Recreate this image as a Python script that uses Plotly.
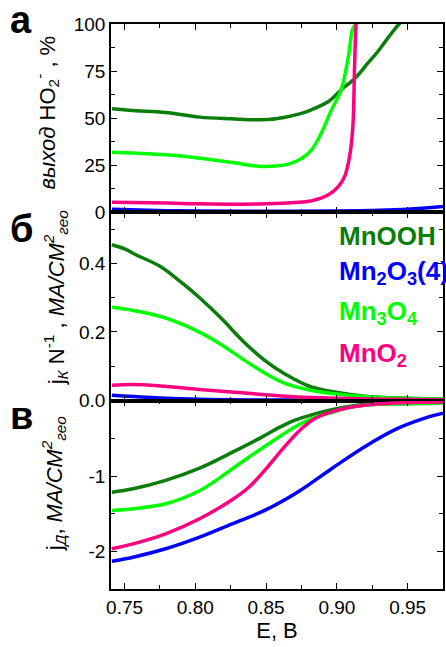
import plotly.graph_objects as go
from plotly.subplots import make_subplots

# ---------------- data ----------------
# Panel а: HO2- yield, %
E_a_MnOOH = [0.741, 0.756, 0.779, 0.803, 0.826, 0.845, 0.857, 0.873, 0.882, 0.894, 0.903, 0.913, 0.922, 0.929, 0.936, 0.944, 0.950]
Y_a_MnOOH = [54.9, 54.0, 53.0, 50.5, 49.6, 49.1, 49.6, 52.1, 54.4, 58.8, 65.0, 71.3, 79.3, 85.4, 92.5, 100, 104]
E_a_Mn2O3 = [0.741, 0.760, 0.780, 0.800, 0.850, 0.900, 0.930, 0.950, 0.975]
Y_a_Mn2O3 = [1.6, 1.2, 0.8, 0.6, 0.5, 0.6, 1.0, 1.6, 3.0]
E_a_Mn3O4 = [0.741, 0.756, 0.779, 0.803, 0.826, 0.845, 0.857, 0.866, 0.875, 0.882, 0.889, 0.896, 0.903, 0.908, 0.911, 0.913, 0.915]
Y_a_Mn3O4 = [31.9, 31.4, 30.5, 28.7, 26.4, 24.4, 24.5, 25.5, 28.5, 33.0, 42.0, 54.0, 65.0, 82.0, 97.0, 100, 108]
E_a_MnO2 = [0.741, 0.780, 0.803, 0.826, 0.849, 0.873, 0.882, 0.894, 0.901, 0.9055, 0.909, 0.9113, 0.9125, 0.9136, 0.915]
Y_a_MnO2 = [5.3, 4.8, 4.4, 4.2, 4.4, 5.3, 6.0, 9.2, 13.6, 19.0, 29.6, 45.5, 77.0, 100, 110]

# Panel б: jk N^-1, mA/cm2
E_b_MnOOH = [0.741, 0.750, 0.758, 0.775, 0.791, 0.803, 0.819, 0.833, 0.849, 0.863, 0.882, 0.908, 0.930, 0.950, 0.975]
Y_b_MnOOH = [0.455, 0.443, 0.426, 0.392, 0.342, 0.300, 0.237, 0.176, 0.117, 0.078, 0.039, 0.018, 0.009, 0.006, 0.004]
E_b_Mn2O3 = [0.741, 0.775, 0.803, 0.850, 0.900, 0.975]
Y_b_Mn2O3 = [0.015, 0.007, 0.003, 0.001, 0.0005, 0.0005]
E_b_Mn3O4 = [0.741, 0.756, 0.775, 0.791, 0.805, 0.819, 0.833, 0.849, 0.863, 0.882, 0.908, 0.930, 0.950, 0.975]
Y_b_Mn3O4 = [0.272, 0.263, 0.246, 0.222, 0.195, 0.161, 0.122, 0.080, 0.050, 0.029, 0.015, 0.008, 0.005, 0.004]
E_b_MnO2 = [0.741, 0.756, 0.775, 0.803, 0.833, 0.863, 0.908, 0.940, 0.975]
Y_b_MnO2 = [0.044, 0.046, 0.042, 0.032, 0.022, 0.012, 0.005, 0.003, 0.002]

# Panel в: jD, mA/cm2
E_c_MnOOH = [0.741, 0.756, 0.779, 0.803, 0.826, 0.847, 0.859, 0.870, 0.882, 0.894, 0.906, 0.917, 0.945, 0.975]
Y_c_MnOOH = [-1.21, -1.165, -1.053, -0.890, -0.680, -0.476, -0.350, -0.253, -0.180, -0.120, -0.075, -0.046, -0.03, -0.025]
E_c_Mn2O3 = [0.741, 0.756, 0.779, 0.803, 0.826, 0.849, 0.873, 0.896, 0.920, 0.943, 0.966, 0.975]
Y_c_Mn2O3 = [-2.129, -2.076, -1.964, -1.809, -1.631, -1.453, -1.200, -0.900, -0.600, -0.360, -0.200, -0.156]
E_c_Mn3O4 = [0.741, 0.756, 0.779, 0.803, 0.814, 0.826, 0.838, 0.849, 0.861, 0.873, 0.884, 0.896, 0.908, 0.920, 0.945, 0.975]
Y_c_Mn3O4 = [-1.453, -1.43, -1.364, -1.190, -1.06, -0.90, -0.74, -0.60, -0.45, -0.31, -0.215, -0.15, -0.085, -0.05, -0.03, -0.025]
E_c_MnO2 = [0.741, 0.756, 0.779, 0.803, 0.826, 0.838, 0.849, 0.861, 0.873, 0.884, 0.896, 0.908, 0.931, 0.955, 0.975]
Y_c_MnO2 = [-1.964, -1.898, -1.764, -1.564, -1.31, -1.14, -0.92, -0.65, -0.40, -0.235, -0.14, -0.084, -0.031, -0.012, -0.008]

x_tickvals = [0.75, 0.80, 0.85, 0.90, 0.95]
x_ticktext = ["0.75", "0.80", "0.85", "0.90", "0.95"]
a_tickvals = [0, 25, 50, 75, 100]
a_ticktext = ["0", "25", "50", "75", "100"]
b_tickvals = [0.0, 0.2, 0.4]
b_ticktext = ["0.0", "0.2", "0.4"]
c_tickvals = [-2, -1]
c_ticktext = ["-2", "-1"]

series_names = ["MnOOH", "Mn<sub>2</sub>O<sub>3</sub>(4)", "Mn<sub>3</sub>O<sub>4</sub>", "MnO<sub>2</sub>"]
colors = ["#0a7d0a", "#0000ff", "#00ff00", "#ff0080"]

# ---------------- figure ----------------
W, H = 446, 647
ML, MR, MT, MB = 111, 1, 24, 58
fig = make_subplots(rows=3, cols=1, shared_xaxes=True, vertical_spacing=0)

panels = [
    [(E_a_MnOOH, Y_a_MnOOH), (E_a_Mn2O3, Y_a_Mn2O3), (E_a_Mn3O4, Y_a_Mn3O4), (E_a_MnO2, Y_a_MnO2)],
    [(E_b_MnOOH, Y_b_MnOOH), (E_b_Mn2O3, Y_b_Mn2O3), (E_b_Mn3O4, Y_b_Mn3O4), (E_b_MnO2, Y_b_MnO2)],
    [(E_c_MnOOH, Y_c_MnOOH), (E_c_Mn2O3, Y_c_Mn2O3), (E_c_Mn3O4, Y_c_Mn3O4), (E_c_MnO2, Y_c_MnO2)],
]
order = [1, 0, 2, 3]
for r, pdata in enumerate(panels, start=1):
    for i in order:
        ex, ey = pdata[i]
        fig.add_trace(go.Scatter(x=ex, y=ey, mode="lines", line=dict(color=colors[i], width=3.5, shape="spline", smoothing=1.0),
                                 showlegend=False, hoverinfo="skip"), row=r, col=1)

font_family = "Liberation Sans, Arial, sans-serif"
axis_common = dict(showline=True, linecolor="black", linewidth=1.5, mirror="allticks", ticks="inside",
                   ticklen=6, tickwidth=1.2, tickcolor="black", showgrid=False, zeroline=False,
                   tickfont=dict(family=font_family, size=19, color="black"))

for r in (1, 2, 3):
    fig.update_xaxes(range=[0.7404, 0.975], tickvals=x_tickvals, ticktext=x_ticktext,
                     minor=dict(ticks="inside", ticklen=4, tickwidth=1.2, tickcolor="black", dtick=0.025, tick0=0.75, showgrid=False),
                     showticklabels=(r == 3), row=r, col=1, **axis_common)

fig.update_yaxes(range=[-0.1, 100], tickvals=a_tickvals, ticktext=a_ticktext,
                 minor=dict(ticks="inside", ticklen=4, tickwidth=1.2, tickcolor="black", tickvals=[12.5, 37.5, 62.5, 87.5]),
                 row=1, col=1, **axis_common)
fig.update_yaxes(range=[-0.001, 0.55], tickvals=b_tickvals, ticktext=b_ticktext,
                 minor=dict(ticks="inside", ticklen=4, tickwidth=1.2, tickcolor="black", tickvals=[0.1, 0.3, 0.5]),
                 row=2, col=1, **axis_common)
fig.update_yaxes(range=[-2.5, 0.01], tickvals=c_tickvals, ticktext=c_ticktext,
                 minor=dict(ticks="inside", ticklen=4, tickwidth=1.2, tickcolor="black", tickvals=[-2.5, -1.5, -0.5]),
                 row=3, col=1, **axis_common)

fig.update_xaxes(title=dict(text="E, В", font=dict(family=font_family, size=22, color="black"), standoff=6), row=3, col=1)

PW = W - ML - MR
PH = H - MT - MB

def px(x):
    return (x - ML) / PW

def py(y):
    return (H - MB - y) / PH

ann = []
# y-axis titles
ytitles = [
    ("<i>выход</i> HO<sub>2</sub><sup>-</sup> , %", 46, 112),
    ("j<sub><i>К</i></sub> N<sup>-1</sup> , <i>МА/СМ<sup>2</sup><sub>гео</sub></i>", 55, 297),
    ("j<sub><i>Д</i></sub>, <i>МА/СМ<sup>2</sup><sub>гео</sub></i>", 53, 483),
]
for t, x, y in ytitles:
    ann.append(dict(text=t, x=px(x), y=py(y), xref="paper", yref="paper", showarrow=False, textangle=-90,
                    xanchor="center", yanchor="middle", font=dict(family=font_family, size=22, color="black")))
# panel letters
for t, x, y in [("а", 20, 20), ("б", 21, 229), ("в", 21, 416)]:
    ann.append(dict(text="<b>" + t + "</b>", x=px(x), y=py(y), xref="paper", yref="paper", showarrow=False,
                    xanchor="center", yanchor="middle", font=dict(family=font_family, size=38, color="black")))
# legend labels
for name, col, y in zip(series_names, colors, [236, 272, 312, 354]):
    ann.append(dict(text="<b>" + name + "</b>", x=px(338), y=py(y), xref="paper", yref="paper", showarrow=False,
                    xanchor="left", yanchor="middle", font=dict(family=font_family, size=26, color=col)))

fig.update_layout(width=W, height=H, margin=dict(l=ML, r=MR, t=MT, b=MB), plot_bgcolor="white", paper_bgcolor="white",
                  annotations=ann, showlegend=False)

fig.write_html("out.html", config={"displayModeBar": False},
               post_script="document.body.style.margin='0';document.body.style.overflow='hidden';")
